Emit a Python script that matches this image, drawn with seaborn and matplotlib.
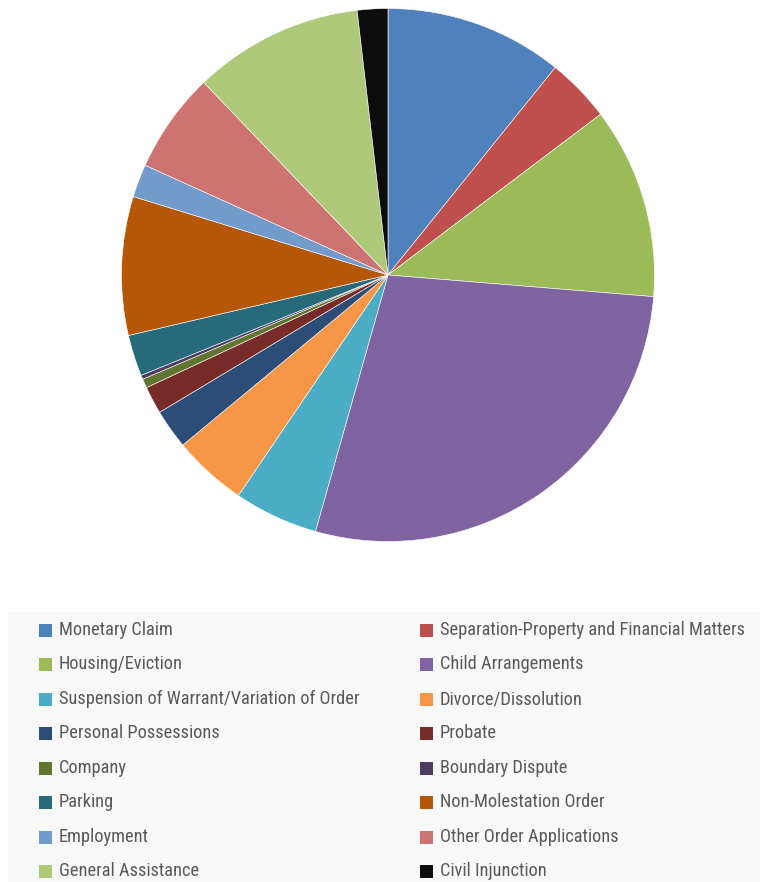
#!/usr/bin/env python3
"""Pie of application types with a two-column legend underneath."""

import matplotlib

matplotlib.use("Agg")
import matplotlib.pyplot as plt
from matplotlib.patches import Rectangle
import seaborn as sns

sns.set_theme(style="white")
plt.rcParams["font.family"] = ["Roboto Condensed", "Lato", "DejaVu Sans"]

# Share of applications (%), clockwise from 12 o'clock
categories = [
    "Monetary Claim",
    "Separation-Property and Financial Matters",
    "Housing/Eviction",
    "Child Arrangements",
    "Suspension of Warrant/Variation of Order",
    "Divorce/Dissolution",
    "Personal Possessions",
    "Probate",
    "Company",
    "Boundary Dispute",
    "Parking",
    "Non-Molestation Order",
    "Employment",
    "Other Order Applications",
    "General Assistance",
    "Civil Injunction",
]
shares = [10.8, 3.9, 11.6, 28.1, 5.1, 4.5, 2.4, 1.67, 0.55, 0.25,
          2.5, 8.4, 2.0, 6.1, 10.3, 1.85]
colours = [
    "#4F81BD", "#C0504D", "#9BBB59", "#8064A2", "#4BACC6", "#F79646",
    "#2C4D75", "#772C2A", "#5F7530", "#4D3B62", "#276A7C", "#B65708",
    "#729ACA", "#CD7371", "#AFC97A", "#0D0D0D",
]
palette = sns.color_palette(colours)

W, H = 760, 882
fig = plt.figure(figsize=(W / 100, H / 100), dpi=100)
fig.patch.set_facecolor("white")

# pie axes: centre (388, 275) px, radius ~266 px
cx, cy, r = 388, 275, 266.5
ax = fig.add_axes([(cx - r) / W, (H - cy - r) / H, 2 * r / W, 2 * r / H])
wedges, _ = ax.pie(
    shares,
    colors=palette,
    startangle=90,
    counterclock=False,
    radius=1,
    wedgeprops=dict(edgecolor="white", linewidth=0.4),
)
ax.set_xlim(-1, 1)
ax.set_ylim(-1, 1)
ax.set_aspect("equal")
ax.axis("off")

# legend panel
fig.patches.append(Rectangle((8 / W, 0), 1, (H - 612) / H, transform=fig.transFigure,
                             facecolor="#f8f8f8", edgecolor="none", zorder=0))
row_y = [630, 664, 699, 733, 768, 802, 837, 871]
col_x = [39, 420]
box = 13
for i, (name, col) in enumerate(zip(categories, palette)):
    x = col_x[i % 2]
    y = row_y[i // 2]
    fig.patches.append(Rectangle((x / W, (H - y - box / 2) / H), box / W, box / H,
                                 transform=fig.transFigure, facecolor=col,
                                 edgecolor="none", zorder=2))
    fig.text((x + box + 7) / W, (H - y) / H, name, ha="left", va="center",
             fontsize=13.2, color="#595959")

fig.savefig("out.png", dpi=100)
